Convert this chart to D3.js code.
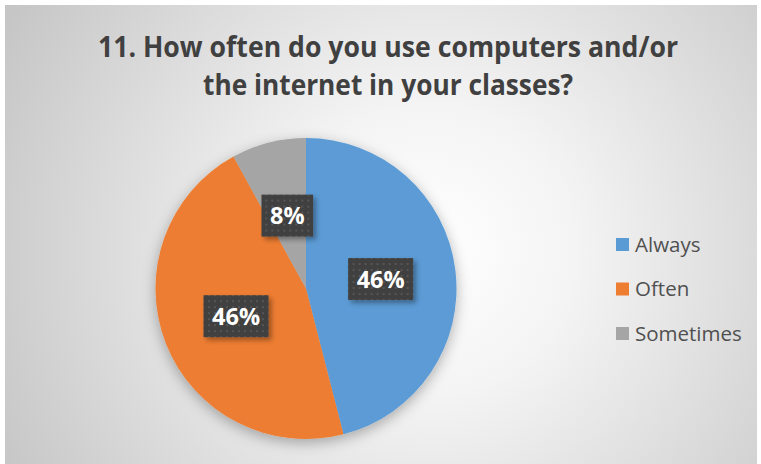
<!DOCTYPE html>
<html>
<head>
<meta charset="utf-8">
<script src="https://cdn.jsdelivr.net/npm/d3@7"></script>
<style>
  html, body { margin: 0; padding: 0; background: #ffffff; }
  svg { display: block; }
</style>
</head>
<body>
<svg id="chart" width="761" height="464"></svg>
<script>
const titleLines = ["11. How often do you use computers and/or", "the internet in your classes?"];
const categories = ["Always", "Often", "Sometimes"];
const values = [46, 46, 8];
const colors = ["#5B9BD5", "#ED7D31", "#A5A5A5"];

const W = 761, H = 464;
const svg = d3.select("#chart");
const defs = svg.append("defs");

// background radial gradient
const rg = defs.append("radialGradient").attr("id", "bg")
  .attr("gradientUnits", "userSpaceOnUse")
  .attr("cx", 430).attr("cy", 250).attr("r", 480);
rg.append("stop").attr("offset", "0%").attr("stop-color", "#ffffff");
rg.append("stop").attr("offset", "30%").attr("stop-color", "#f4f4f4");
rg.append("stop").attr("offset", "100%").attr("stop-color", "#c6c6c6");

// pie shadow
const sh = defs.append("filter").attr("id", "pieShadow")
  .attr("x", "-30%").attr("y", "-30%").attr("width", "160%").attr("height", "160%");
sh.append("feDropShadow").attr("dx", 0).attr("dy", 4).attr("stdDeviation", 7)
  .attr("flood-color", "#000").attr("flood-opacity", 0.3);

const lsh = defs.append("filter").attr("id", "lblShadow")
  .attr("x", "-30%").attr("y", "-30%").attr("width", "170%").attr("height", "170%");
lsh.append("feDropShadow").attr("dx", 3).attr("dy", 3).attr("stdDeviation", 2.5)
  .attr("flood-color", "#000").attr("flood-opacity", 0.35);

// dotted pattern for label boxes
const pat = defs.append("pattern").attr("id", "dots")
  .attr("patternUnits", "userSpaceOnUse").attr("width", 6).attr("height", 6);
pat.append("rect").attr("width", 6).attr("height", 6).attr("fill", "#3f3f3f");
pat.append("rect").attr("x", 2).attr("y", 2).attr("width", 2).attr("height", 2).attr("fill", "#565656");

svg.append("rect").attr("x", 5).attr("y", 5).attr("width", 752).attr("height", 459)
  .attr("fill", "url(#bg)");

// title
const title = svg.append("g");
const titleWidths = [580, 370];
titleLines.forEach((t, i) => {
  title.append("text")
    .attr("x", 388).attr("y", 57 + i * 38)
    .attr("text-anchor", "middle")
    .attr("font-family", "'Open Sans', sans-serif")
    .attr("font-weight", 700)
    .attr("font-size", 28)
    .attr("fill", "#404040")
    .attr("textLength", titleWidths[i])
    .attr("lengthAdjust", "spacingAndGlyphs")
    .text(t);
});

// pie
const cx = 306, cy = 288.5, R = 150.5;
const data = categories.map((c, i) => ({ cat: c, value: values[i], color: colors[i] }));
const pie = d3.pie().sort(null).value(d => d.value);
const arcs = pie(data);
const arc = d3.arc().innerRadius(0).outerRadius(R);
const labelArc = d3.arc().innerRadius(R * 0.5).outerRadius(R * 0.5);
const total = d3.sum(values);

const g = svg.append("g").attr("transform", `translate(${cx},${cy})`);
g.append("g").attr("filter", "url(#pieShadow)")
  .selectAll("path").data(arcs).join("path")
  .attr("d", arc).attr("fill", d => d.data.color);

// labels
const lg = g.append("g");
arcs.forEach(a => {
  const [x, y] = labelArc.centroid(a);
  const txt = Math.round(a.data.value / total * 100) + "%";
  const grp = lg.append("g").attr("transform", `translate(${x},${y})`);
  const tEl = grp.append("text")
    .attr("text-anchor", "middle").attr("dy", "0.36em")
    .attr("font-family", "'Open Sans', sans-serif")
    .attr("font-weight", 700).attr("font-size", 23.5)
    .attr("fill", "#ffffff").text(txt);
  const w = tEl.node().getComputedTextLength() + 17;
  const h = 42;
  grp.insert("rect", "text")
    .attr("x", -w / 2).attr("y", -h / 2).attr("width", w).attr("height", h)
    .attr("fill", "url(#dots)").attr("filter", "url(#lblShadow)");
});

// legend
const legend = svg.append("g").attr("transform", "translate(616,244.5)");
const items = legend.selectAll("g").data(data).join("g")
  .attr("transform", (d, i) => `translate(0,${i * 44.5})`);
items.append("rect").attr("x", 0).attr("y", -6.5).attr("width", 13).attr("height", 13)
  .attr("fill", d => d.color);
items.append("text").attr("x", 19).attr("dy", "0.36em")
  .attr("font-family", "'Open Sans', sans-serif")
  .attr("font-size", 20.5).attr("fill", "#505050")
  .text(d => d.cat);
</script>
</body>
</html>
